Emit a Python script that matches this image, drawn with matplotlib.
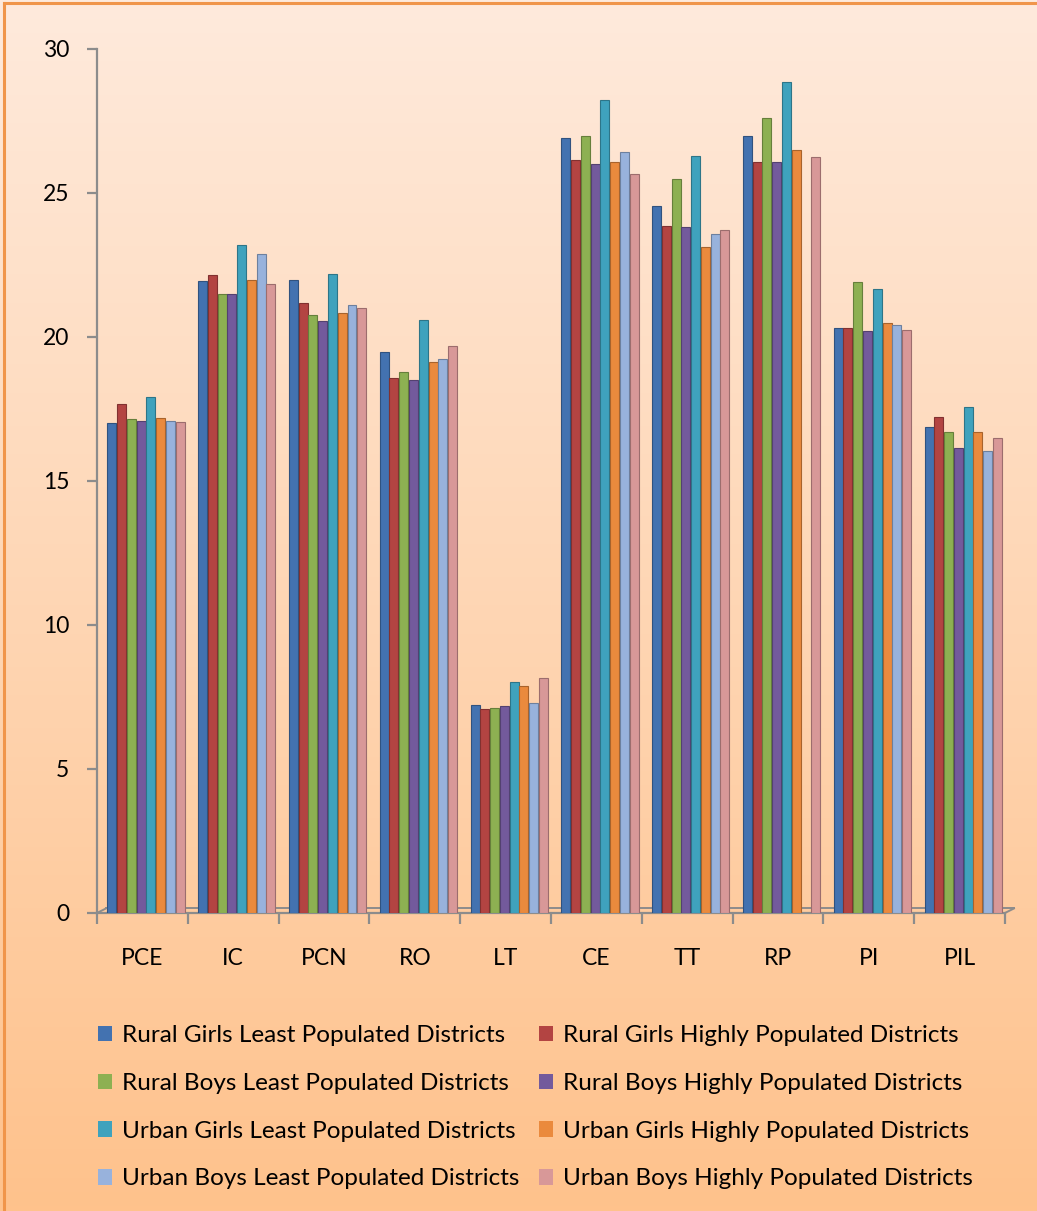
import numpy as np
import matplotlib.pyplot as plt
import matplotlib.colors as mcolors
from matplotlib.transforms import ScaledTranslation
from matplotlib.patches import Patch

plt.rcParams['font.family'] = ['Lato', 'DejaVu Sans']

categories = ["PCE", "IC", "PCN", "RO", "LT", "CE", "TT", "RP", "PI", "PIL"]

series_names = [
    "Rural Girls Least Populated Districts",
    "Rural Girls Highly Populated Districts",
    "Rural Boys Least Populated Districts",
    "Rural Boys Highly Populated Districts",
    "Urban Girls Least Populated Districts",
    "Urban Girls Highly Populated Districts",
    "Urban Boys Least Populated Districts",
    "Urban Boys Highly Populated Districts",
]

rural_girls_least = [17.00, 21.94, 21.98, 19.49, 7.22, 26.90, 24.56, 26.99, 20.30, 16.88]
rural_girls_high = [17.66, 22.15, 21.17, 18.56, 7.07, 26.15, 23.86, 26.06, 20.32, 17.23]
rural_boys_least = [17.14, 21.50, 20.76, 18.77, 7.13, 26.98, 25.47, 27.60, 21.90, 16.69]
rural_boys_high = [17.08, 21.48, 20.56, 18.50, 7.19, 26.00, 23.80, 26.06, 20.21, 16.13]
urban_girls_least = [17.93, 23.19, 22.20, 20.59, 8.03, 28.23, 26.28, 28.84, 21.65, 17.58]
urban_girls_high = [17.20, 21.98, 20.82, 19.14, 7.88, 26.09, 23.13, 26.49, 20.50, 16.71]
urban_boys_least = [17.09, 22.88, 21.10, 19.22, 7.30, 26.41, 23.56, np.nan, 20.42, 16.04]
urban_boys_high = [17.03, 21.84, 21.00, 19.70, 8.15, 25.65, 23.73, 26.24, 20.24, 16.48]

y_ticks = [0, 5, 10, 15, 20, 25, 30]

series_values = [
    rural_girls_least, rural_girls_high, rural_boys_least, rural_boys_high,
    urban_girls_least, urban_girls_high, urban_boys_least, urban_boys_high,
]
colors = ["#4372B0", "#B34442", "#8DB052", "#735A9C",
          "#3FA2BD", "#EA8A3D", "#98B2DC", "#D89898"]

fig = plt.figure(figsize=(10.37, 12.11), dpi=100)

# Background gradient from light peach to warm orange
bg = fig.add_axes([0, 0, 1, 1], zorder=-10)
top_c = np.array(mcolors.to_rgb("#FEEADC"))
bot_c = np.array(mcolors.to_rgb("#FFC28C"))
t = np.linspace(0, 1, 256)[:, None]
grad = top_c[None, :] * (1 - t) + bot_c[None, :] * t
bg.imshow(grad[:, None, :], aspect="auto", extent=[0, 1, 0, 1])
bg.set_xlim(0, 1)
bg.set_ylim(0, 1)
bg.axis("off")

# Frame lines along the top and left edges
fig.add_artist(plt.Line2D([0.0035, 1], [0.9975, 0.9975], color="#F0954A", lw=2.2, transform=fig.transFigure))
fig.add_artist(plt.Line2D([0.0035, 0.0035], [0, 0.9975], color="#F0954A", lw=2.2, transform=fig.transFigure))

ax = fig.add_axes([0.0935, 0.2461, 0.8756, 0.7135])
ax.set_facecolor("none")

x = np.arange(len(categories))
n = len(series_values)
group_w = 0.86
bar_w = group_w / n
shift = 0.04
for i, (vals, c) in enumerate(zip(series_values, colors)):
    pos = x - group_w / 2 + bar_w * (i + 0.5) + shift
    edge = np.array(mcolors.to_rgb(c)) * 0.72
    ax.bar(pos, vals, width=bar_w * 0.92, color=c, edgecolor=edge, linewidth=0.8,
           label=series_names[i], zorder=3)

ax.set_xlim(-0.5, len(categories) - 0.5)
ax.set_ylim(0, 30)
ax.set_yticks(y_ticks)
ax.set_xticks(x)
ax.set_xticklabels(categories)
ax.set_xticks(np.arange(-0.5, len(categories)), minor=True)

axis_gray = "#8C8C8C"
for s in ["top", "right"]:
    ax.spines[s].set_visible(False)
for s in ["left", "bottom"]:
    ax.spines[s].set_color(axis_gray)
    ax.spines[s].set_linewidth(1.6)

ax.tick_params(axis="y", which="major", length=7, width=1.6, color=axis_gray,
               labelsize=16.5, pad=13, labelcolor="black")
ax.tick_params(axis="x", which="major", length=0, labelsize=16.5, pad=25, labelcolor="black")
ax.tick_params(axis="x", which="minor", length=8, width=1.6, color=axis_gray)

# Back edge of the floor, drawn slightly up and to the right
off = ax.transData + ScaledTranslation(0.09, 0.045, fig.dpi_scale_trans)
ax.plot([-0.5, len(categories) - 0.5], [0, 0], color=axis_gray, lw=1.4, transform=off,
        zorder=2, clip_on=False)
for xe in [-0.5, len(categories) - 0.5]:
    p0 = ax.transData.transform((xe, 0))
    p1 = off.transform((xe, 0))
    fig.add_artist(plt.Line2D([p0[0] / fig.bbox.width, p1[0] / fig.bbox.width],
                              [p0[1] / fig.bbox.height, p1[1] / fig.bbox.height],
                              color=axis_gray, lw=1.4, transform=fig.transFigure))

handles = [Patch(facecolor=c, edgecolor="none") for c in colors]
order = [0, 2, 4, 6, 1, 3, 5, 7]
fig.legend([handles[k] for k in order], [series_names[k] for k in order],
           ncol=2, loc="upper left", bbox_to_anchor=(0.073, 0.1715),
           frameon=False, fontsize=17.5, handlelength=0.6, handleheight=0.6,
           handletextpad=0.4, columnspacing=0.8, labelspacing=1.1)

fig.savefig("out.png", dpi=100)
